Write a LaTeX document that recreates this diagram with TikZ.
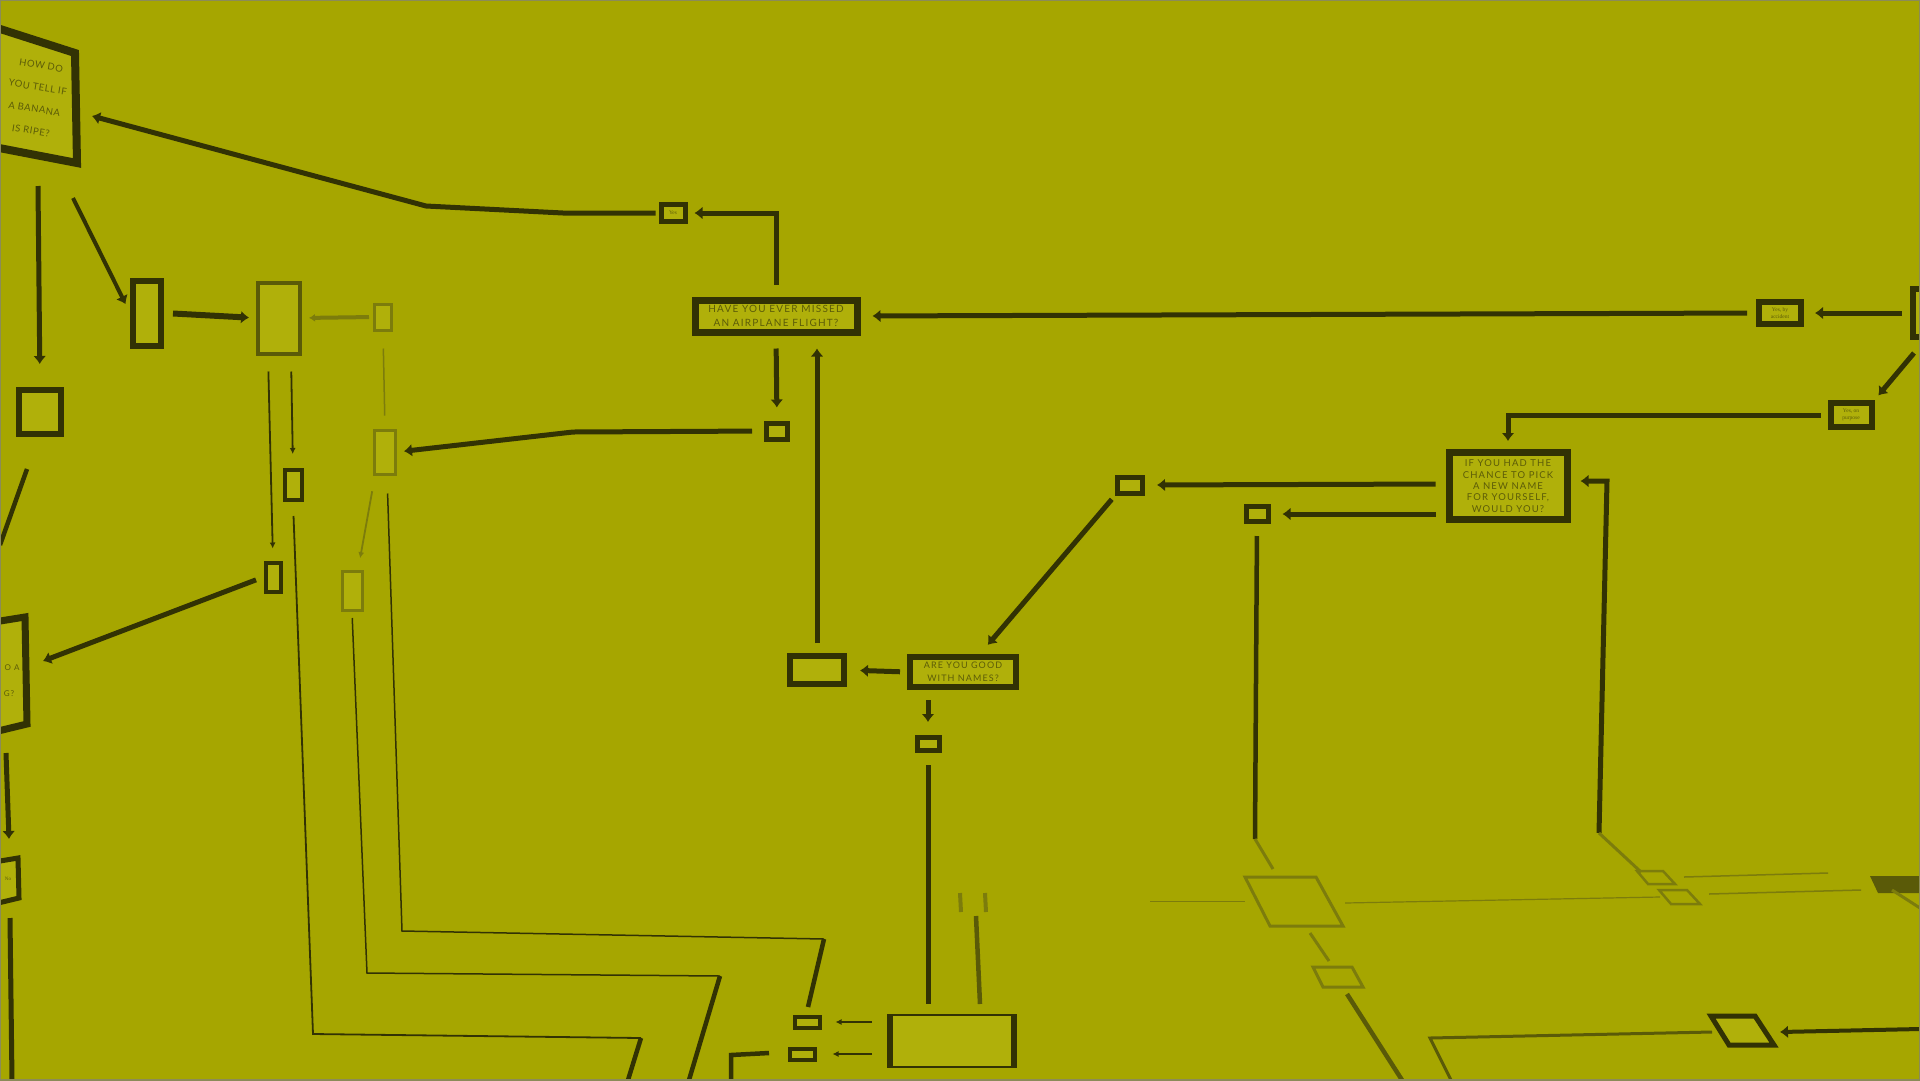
\documentclass[tikz,border=0pt]{standalone}
\usepackage{fontspec}
\setmainfont{Lato}
\newfontfamily\signfont[LetterSpace=12]{Lato}
\newfontfamily\cardfont[LetterSpace=6]{Lato}
\newfontfamily\notefont{Liberation Serif}
\usetikzlibrary{arrows.meta}

\definecolor{wall}{RGB}{166,166,0}
\definecolor{ink}{RGB}{50,50,4}
\definecolor{dim}{RGB}{90,90,8}
\definecolor{faded}{RGB}{124,124,12}
\definecolor{card}{RGB}{176,176,10}
\definecolor{print}{RGB}{92,92,8}

\begin{document}
\begin{tikzpicture}[x=1pt,y=-1pt,
  qbox/.style={draw=ink,line width=7pt,fill=card,text=print,align=center,inner sep=0pt,
    font=\signfont\fontsize{10}{14}\selectfont},
  sbox/.style={draw=ink,line width=5pt,fill=card,text=print,align=center,inner sep=0pt,
    font=\notefont\fontsize{5.5}{6.5}\selectfont},
  gbox/.style={draw=faded,line width=3pt,fill=card,inner sep=0pt},
  link/.style={draw=ink,line width=5pt,-{Latex[length=8pt,width=13pt]}},
  tarrow/.style={draw=ink,line width=1.8pt,-{Latex[length=6pt,width=6pt]}},
  wire/.style={draw=ink,line width=1.8pt},
  fwire/.style={draw=faded,line width=2pt},
  bar/.style={draw=ink,line width=4.5pt},
]

% Wall
\fill[wall] (0,0) rectangle (1920,1080);
\clip (0,0) rectangle (1920,1080);

% Question cards
\node[qbox,minimum width=162pt,minimum height=32pt] (plane) at (776,316)
  {HAVE YOU EVER MISSED\\AN AIRPLANE FLIGHT?};
\node[qbox,minimum width=118pt,minimum height=67pt,
  font=\signfont\fontsize{9.5}{11.3}\selectfont] (rename) at (1508,486)
  {IF YOU HAD THE\\CHANCE TO PICK\\A NEW NAME\\FOR YOURSELF,\\WOULD YOU?};
\node[qbox,line width=6pt,minimum width=106pt,minimum height=30pt,
  font=\signfont\fontsize{9}{12.5}\selectfont] (names) at (963,672)
  {ARE YOU GOOD\\WITH NAMES?};
\node[qbox,line width=6pt,minimum width=54pt,minimum height=28pt] (blank) at (817,670) {};

% Answer tags
\node[sbox,minimum width=24pt,minimum height=17pt] (pyes) at (673,213) {Yes};
\node[sbox,minimum width=21pt,minimum height=16pt] (pno) at (777,431) {};
\node[sbox,minimum width=22pt,minimum height=13pt] (nno) at (928,744) {};
\node[sbox,minimum width=25pt,minimum height=16pt] (ra) at (1130,485) {};
\node[sbox,minimum width=22pt,minimum height=15pt] (rb) at (1257,514) {};
\node[sbox,line width=6pt,minimum width=42pt,minimum height=22pt] (acc) at (1780,313) {Yes, by\\accident};
\node[sbox,line width=6pt,minimum width=41pt,minimum height=24pt] (purp) at (1851,415) {Yes, on\\purpose};
\node[sbox,line width=6pt,minimum width=26pt,minimum height=48pt] (edge) at (1926,313) {};

% Left side cards
\draw[ink,line width=8pt,fill=card] (-6,27) -- (75,53) -- (77,163) -- (-6,147) -- cycle;
\node[rotate=-9,align=center,text=print,font=\cardfont\fontsize{9.5}{22}\selectfont]
  (banana) at (36,98) {HOW DO\\YOU TELL IF\\A BANANA\\IS RIPE?};
\draw[ink,line width=7pt,fill=card] (-6,622) -- (25,617) -- (27,724) -- (-6,732) -- cycle;
\node[text=print,font=\signfont\fontsize{8}{10}\selectfont,inner sep=1pt] (flightcard) at (12,668) {O A};
\node[text=print,font=\signfont\fontsize{8}{10}\selectfont,inner sep=1pt] (flightend) at (9,694) {G?};
\draw[ink,line width=5pt,fill=card] (-6,862) -- (18,858) -- (19,898) -- (-6,904) -- cycle;
\node[text=print,font=\notefont\fontsize{5}{6}\selectfont] (nocard) at (8,879) {No};

\node[sbox,line width=6pt,minimum width=28pt,minimum height=65pt] (lone) at (147,313) {};
\node[gbox,draw=dim,line width=4pt,minimum width=42pt,minimum height=71pt] (ltwo) at (279,318) {};
\node[gbox,minimum width=17pt,minimum height=26pt] (lthree) at (383,317) {};
\node[gbox,minimum width=21pt,minimum height=44pt] (lfour) at (385,452) {};
\node[sbox,line width=4pt,minimum width=17pt,minimum height=30pt] (lfive) at (293,485) {};
\node[sbox,line width=4pt,minimum width=15pt,minimum height=29pt] (lsix) at (273,577) {};
\node[gbox,minimum width=20pt,minimum height=39pt] (lseven) at (352,591) {};
\node[sbox,line width=6pt,minimum width=42pt,minimum height=44pt] (lbox) at (40,412) {};

% Bottom cards
\node[sbox,line width=4pt,minimum width=25pt,minimum height=11pt] (ma) at (807,1022) {};
\node[sbox,line width=4pt,minimum width=25pt,minimum height=11pt] (mb) at (802,1054) {};
\node[draw=ink,line width=1.5pt,fill=card,minimum width=122pt,minimum height=52pt] (base) at (952,1041) {};
\draw[ink,line width=6pt] (base.north west) -- (base.south west);
\draw[ink,line width=6pt] (base.north east) -- (base.south east);

% Connectors round the airplane card
\draw[link,shorten <=12pt,shorten >=7pt] (plane.north) |- (pyes.east);
\draw[link,shorten <=3pt] (pyes.west) -- (563,213) -- (426,206) -- (92,116);
\draw[link,shorten <=13pt,shorten >=13pt] (plane.south) -- (pno.north);
\draw[link,shorten <=12pt,shorten >=7pt] (pno.west) -- (573,432) -- (lfour.east);
\draw[link,shorten <=10pt,shorten >=13pt] (blank.north) -- (blank.north |- plane.south);

% Connectors round the names cards
\draw[link,shorten <=7pt,shorten >=13pt] (names.west) -- (blank.east);
\draw[link,shorten <=10pt,shorten >=13pt] (nno.north |- names.south) -- (nno.north);
\draw[link,shorten <=5pt,shorten >=12pt] (ra.south west) -- ([xshift=-39pt]names.north east);
\draw[link,shorten <=10pt,shorten >=12pt] ([yshift=2pt]rename.west) -- (ra.east);
\draw[link,shorten <=10pt,shorten >=12pt] (rename.west |- rb.east) -- (rb.east);
\draw[bar,shorten <=12pt] (rb.south) -- (1255,839);
\draw[fwire,line width=3pt] (1255,839) -- (1273,869);

% Right side
\draw[link,shorten <=8pt,shorten >=11pt] (edge.west) -- (acc.east);
\draw[link,shorten <=9pt,shorten >=12pt] (acc.west) -- (plane.east);
\draw[link,shorten >=6pt] (1914,353) -- (purp.north east);
\draw[link,shorten <=7pt,shorten >=8pt] (purp.west) -| (rename.north);
\draw[link,shorten >=10pt] (1599,833) -- (1607,481) -- ([yshift=5pt]rename.east);
\draw[fwire,line width=3pt] (1599,833) -- (1641,872);

% Left side connectors
\draw[link,line width=4pt,shorten >=10pt] (73,198) -- (lone.west);
\draw[link,shorten >=23pt] (38,186) -- (lbox.north);
\draw[bar] (27,469) -- (0,545);
\draw[link,line width=6pt,shorten <=9pt,shorten >=7pt] (lone.east) -- (ltwo.west);
\draw[draw=faded,line width=4pt,-{Latex[length=6pt,width=8pt]},shorten <=4pt,shorten >=7pt]
  (lthree.west) -- (ltwo.east);
\draw[fwire,line width=1.5pt,shorten <=17pt,shorten >=13pt] (lthree.south) -- (lfour.north);
\draw[tarrow,shorten <=16pt,shorten >=12pt] ([xshift=-11pt]ltwo.south) -- (lsix.north);
\draw[tarrow,shorten <=16pt,shorten >=14pt] ([xshift=12pt]ltwo.south) -- (lfive.north);
\draw[tarrow,draw=faded,shorten <=16pt,shorten >=12pt] ([xshift=-10pt]lfour.south) -- ([xshift=6pt]lseven.north);
\draw[link,shorten <=8pt] (lsix.west) -- (43,661);
\draw[link] (6,753) -- (9,839);
\draw[bar,line width=5pt] (10,918) -- (12,1080);

% Long runs to the floor
\draw[wire,shorten <=14pt] (lfive.south) -- (313,1034) -- (641,1038);
\draw[bar] (641,1038) -- (628,1080);
\draw[wire,line width=1.5pt,shorten <=6pt] (lseven.south) -- (367,973) -- (720,976);
\draw[bar] (720,976) -- (689,1080);
\draw[wire,line width=1.5pt,shorten <=18pt] ([xshift=2pt]lfour.south) -- (402,931) -- (824,939);
\draw[bar] (824,939) -- (808,1007);

% Under the names card
\draw[bar,line width=5pt,shorten <=12pt,shorten >=10pt] (nno.south) -- (nno.south |- base.north);
\draw[bar,draw=dim] (976,916) -- (980,1004);
\draw[fwire,line width=4pt] (960,893) -- (961,912);
\draw[fwire,line width=4pt] (985,893) -- (986,912);
\draw[tarrow,shorten >=14pt] (872,1022) -- (ma.east);
\draw[tarrow,shorten >=16pt] (872,1054) -- (mb.east);
\draw[bar] (731,1080) -- (731,1055) -- (769,1053);

% Floor, right
\draw[fwire,line width=3pt] (1245,877) -- (1316,877) -- (1343,926) -- (1270,926) -- cycle;
\draw[fwire,line width=1pt] (1150,901) -- (1245,901);
\draw[fwire,line width=1.2pt] (1345,903) -- (1660,897);
\draw[fwire,line width=3pt] (1310,933) -- (1329,961);
\draw[fwire,line width=3pt] (1313,967) -- (1352,967) -- (1363,987) -- (1323,987) -- cycle;
\draw[bar,draw=dim] (1347,994) -- (1402,1080);
\draw[fwire,line width=2.5pt] (1637,871) -- (1663,871) -- (1675,884) -- (1648,884) -- cycle;
\draw[fwire,line width=2.5pt] (1659,890) -- (1687,890) -- (1700,904) -- (1671,904) -- cycle;
\draw[fwire,line width=1.5pt] (1684,877) -- (1828,873);
\draw[fwire,line width=1.5pt] (1709,894) -- (1861,890);
\fill[dim] (1870,876) -- (1920,876) -- (1920,893) -- (1878,893) -- cycle;
\draw[fwire,line width=3pt] (1892,890) -- (1920,908);
\draw[bar,draw=dim,line width=3pt] (1451,1080) -- (1430,1038) -- (1712,1032);
\draw[ink,line width=5pt,fill=card] (1711,1016) -- (1755,1016) -- (1774,1045) -- (1729,1045) -- cycle;
\draw[link,line width=4pt] (1920,1029) -- (1780,1032);

% Frame
\draw[gray!70!wall,line width=2pt] (0,0) rectangle (1920,1080);

\end{tikzpicture}
\end{document}
